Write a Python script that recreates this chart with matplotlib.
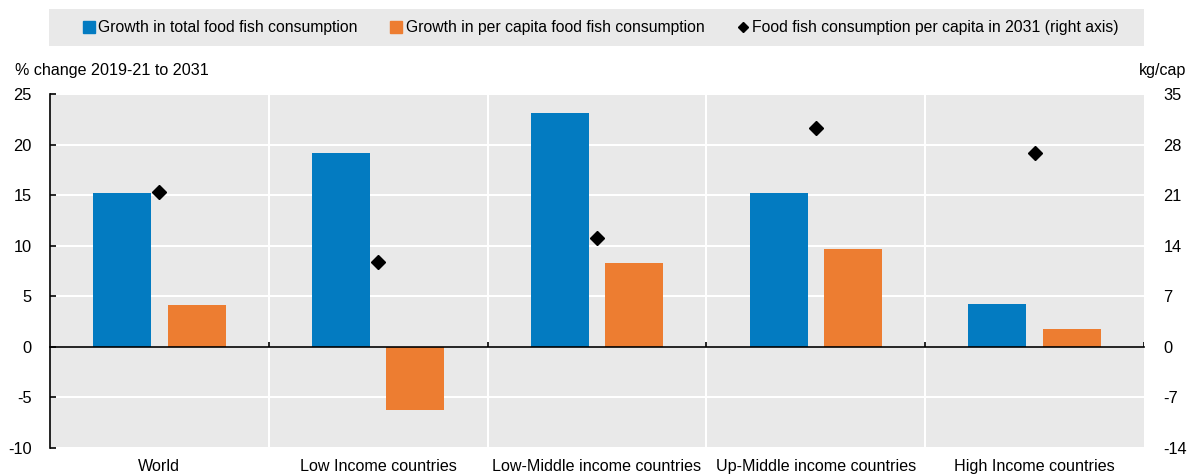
import matplotlib
matplotlib.use("Agg")
import matplotlib.pyplot as plt
from matplotlib.patches import Rectangle
from matplotlib.lines import Line2D
import matplotlib.transforms as mtransforms
import numpy as np

categories = ["World", "Low Income countries", "Low-Middle income countries",
              "Up-Middle income countries", "High Income countries"]
growth_total = [15.2, 19.2, 23.1, 15.2, 4.25]
growth_per_capita = [4.15, -6.2, 8.3, 9.7, 1.8]
per_capita_2031 = [21.5, 11.8, 15.1, 30.3, 26.9]
left_ticks = [-10, -5, 0, 5, 10, 15, 20, 25]
right_ticks = [-14, -7, 0, 7, 14, 21, 28, 35]

BLUE = "#037BC1"
ORANGE = "#ED7D31"
BG = "#E9E9E9"
plt.rcParams["font.family"] = ["Liberation Sans", "DejaVu Sans"]
plt.rcParams["axes.unicode_minus"] = False
FS = 11.3

fig = plt.figure(figsize=(11.91, 4.75), dpi=100)
ax = fig.add_axes([50/1191, 1-448/475, (1144-50)/1191, (448-94)/475])
ax.set_facecolor(BG)

x = np.arange(len(categories))
w = 0.265
off = 0.17
ax.bar(x - off, growth_total, width=w, color=BLUE, zorder=3)
ax.bar(x + off, growth_per_capita, width=w, color=ORANGE, zorder=3)

ax.set_xlim(-0.5, len(categories) - 0.5)
ax.set_ylim(-10, 25)
ax.set_yticks(left_ticks)
ax.yaxis.grid(True, color="white", lw=1.5, zorder=0)
bounds = np.arange(len(categories) + 1) - 0.5
for b in bounds[1:-1]:
    ax.axvline(b, color="white", lw=1.5, zorder=1)

for s in ["top", "right"]:
    ax.spines[s].set_visible(False)
ax.spines["left"].set_color("black")
ax.spines["left"].set_linewidth(1.2)
ax.spines["bottom"].set_position(("data", 0))
ax.spines["bottom"].set_color("black")
ax.spines["bottom"].set_linewidth(1.2)
ax.spines["bottom"].set_zorder(4)
ax.tick_params(axis="y", direction="in", length=4, width=1.2, pad=13, labelsize=FS+0.5)
ax.set_xticks([])

# small upward tick marks on the zero line at category boundaries
tick_tr = mtransforms.offset_copy(ax.transData, fig=fig, x=0, y=0, units="dots")
ax.vlines(bounds[1:], 0, 0.5, colors="black", lw=1.2, zorder=5)

for xi, name in zip(x, categories):
    ax.annotate(name, xy=(xi, 0), xycoords=("data", "axes fraction"),
                xytext=(0, -8), textcoords="offset points",
                ha="center", va="top", fontsize=FS+0.3)

ax2 = ax.twinx()
ax2.set_ylim(-14, 35)
ax2.set_yticks(right_ticks)
ax2.plot(x, per_capita_2031, linestyle="none", marker="D", markersize=7,
         color="black", zorder=5)
for s in ["top", "right", "bottom", "left"]:
    ax2.spines[s].set_visible(False)
ax2.tick_params(axis="y", length=0, pad=14, labelsize=FS+0.5)

fig.text(15/1191, 1-70/475, "% change 2019-21 to 2031", fontsize=FS+0.3,
         ha="left", va="center")
fig.text(1186/1191, 1-70/475, "kg/cap", fontsize=FS+0.3, ha="right", va="center")

# legend
fig.add_artist(Rectangle((49/1191, 1-46/475), (1144-49)/1191, 37/475,
                         transform=fig.transFigure, facecolor=BG,
                         edgecolor="none", zorder=0))
handles = [
    Line2D([], [], linestyle="none", marker="s", markersize=8, color=BLUE),
    Line2D([], [], linestyle="none", marker="s", markersize=8, color=ORANGE),
    Line2D([], [], linestyle="none", marker="D", markersize=5, color="black"),
]
labels = ["Growth in total food fish consumption",
          "Growth in per capita food fish consumption",
          "Food fish consumption per capita in 2031 (right axis)"]
leg = fig.legend(handles, labels, loc="center", bbox_to_anchor=(601/1191, 1-27.5/475),
                 ncol=3, frameon=False, fontsize=FS, handlelength=0.7,
                 handletextpad=0.25, columnspacing=2.1, borderaxespad=0)
leg.set_zorder(5)

fig.savefig("out.png", dpi=100)
